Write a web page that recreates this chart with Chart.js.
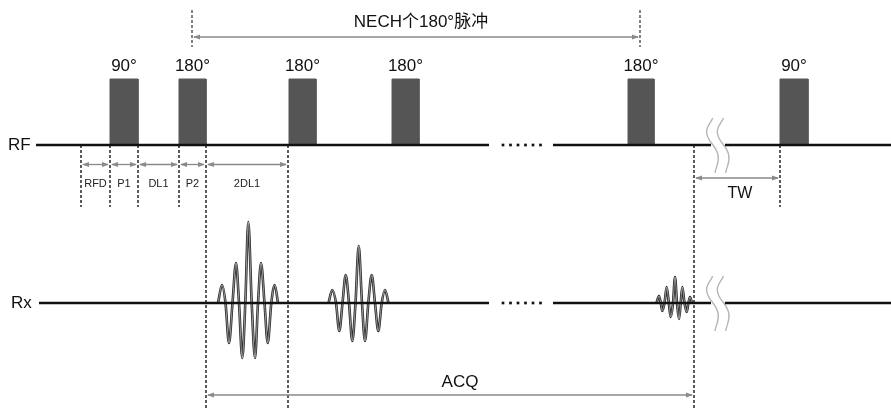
<!DOCTYPE html>
<html>
<head>
<meta charset="utf-8">
<script src="https://cdn.jsdelivr.net/npm/chart.js@4.4.1/dist/chart.umd.min.js"></script>
<style>
  html, body { margin: 0; padding: 0; background: #fff; }
  #wrap { width: 891px; height: 410px; }
</style>
</head>
<body>
<div id="wrap"><canvas id="seq" width="891" height="410"></canvas></div>
<script>
// RF pulses (time units)
const pulseLabels = ['90°', '180°', '180°', '180°', '180°', '90°'];
const pulseOn  = [110, 179, 289, 392, 628, 780];
const pulseOff = [138, 206, 316, 419, 654, 808];
const pulseAmp = 66;

// timing intervals below the RF line
const intervalLabels = ['RFD', 'P1', 'DL1', 'P2', '2DL1'];
const intervalEdges = [81, 110, 138, 179, 206, 288];

// echoes: time and amplitude
const echo1T = [218, 222, 225.5, 229, 232.5, 236, 239, 242.3, 245.3, 248.3, 251.7, 255, 258, 261, 264.5, 267.7, 271.3, 274.7, 278];
const echo1A = [0, 18, 0, -40, 0, 40, 0, -55, 0, 81, 0, -55, 0, 40, 0, -40, 0, 18, 0];
const echo2T = [328.5, 332.3, 336, 339.3, 342.5, 345.7, 349, 352.3, 355.5, 358.7, 362, 365, 368.3, 371.7, 375, 378.3, 381.7, 385, 388.5];
const echo2A = [0, 13, 0, -28, 0, 28, 0, -38, 0, 57, 0, -38, 0, 28, 0, -28, 0, 13, 0];
const echo3T = [656.5, 659, 660.8, 662.3, 664.5, 666.7, 668.8, 670.7, 673, 675, 677, 679, 680.7, 682.3, 684.5, 686.7, 688.4, 690, 692];
const echo3A = [0, 7, 0, -8, 0, 16, 0, -14, 0, 26, 0, -16, 0, 16, 0, -9, 0, 6, 0];

// spans marked with arrows
const nechSpan = [192, 640];
const acqSpan = [206, 694];
const twSpan = [694, 780];

// baseline segments and the "......" gap
const rfSegments = [[36, 489], [553, 711], [725, 891]];
const rxSegments = [[39, 489], [553, 711], [725, 891]];
const gapDots = [503, 510.5, 518, 525.5, 533, 540.5];

// break marks on each line: [t, offset from line]
const breakCurve = [[712.7, -27], [706.7, -12], [718, 10], [715, 28]];
const breakShift = 10.7;

// layout levels on the y scale (reversed, top = 0)
const RF_Y = 145;
const RX_Y = 303;
const SHORT_END = 207;
const LONG_END = 410;

const datasets = [];
const line = (pts, extra) => Object.assign({
  type: 'line', data: pts, borderColor: '#111', borderWidth: 2.5,
  pointRadius: 0, pointHoverRadius: 0, fill: false, tension: 0
}, extra || {});

// baselines
[[RF_Y, rfSegments], [RX_Y, rxSegments]].forEach(([lv, segs]) => {
  segs.forEach(s => {
    datasets.push(line([{ x: s[0], y: lv }, { x: s[1], y: lv }]));
  });
  datasets.push({
    type: 'scatter', data: gapDots.map(t => ({ x: t, y: lv })),
    pointStyle: 'rect', pointRadius: 1.9, pointHoverRadius: 1.9,
    backgroundColor: '#111', borderWidth: 0
  });
});

// pulses
pulseOn.forEach((t0, i) => {
  const t1 = pulseOff[i];
  datasets.push(line([
    { x: t0, y: RF_Y }, { x: t0, y: RF_Y - pulseAmp },
    { x: t1, y: RF_Y - pulseAmp }, { x: t1, y: RF_Y }
  ], { borderColor: '#575757', borderWidth: 1, backgroundColor: '#555', fill: 'shape' }));
});

// echoes: dark outline with a light core, like the scanned figure
[[echo1T, echo1A], [echo2T, echo2A], [echo3T, echo3A]].forEach(([T, A]) => {
  const pts = T.map((t, i) => ({ x: t, y: RX_Y - A[i] }));
  datasets.push(line(pts, {
    borderColor: '#2a2a2a', borderWidth: 2.6, cubicInterpolationMode: 'monotone', order: 2
  }));
  datasets.push(line(pts.map(p => ({ ...p })), {
    borderColor: '#c8c8c8', borderWidth: 0.7, cubicInterpolationMode: 'monotone', order: 1
  }));
});

// dashed markers
const dashed = (t, y0, y1, color) => line([{ x: t, y: y0 }, { x: t, y: y1 }], {
  borderColor: color || '#4a4a4a', borderWidth: 1.8, borderDash: [3, 2], order: 0
});
[intervalEdges[0], intervalEdges[1], intervalEdges[2], intervalEdges[3], twSpan[1]]
  .forEach(t => datasets.push(dashed(t, RF_Y, SHORT_END)));
[acqSpan[0], intervalEdges[5], acqSpan[1]]
  .forEach(t => datasets.push(dashed(t, RF_Y, LONG_END)));
nechSpan.forEach(t => datasets.push(dashed(t, 10, 47, '#777')));

// break marks
[RF_Y, RX_Y].forEach(lv => {
  [0, breakShift].forEach(dx => {
    datasets.push(line(breakCurve.map(p => ({ x: p[0] + dx, y: lv + p[1] })), {
      borderColor: '#b5b5b5', borderWidth: 1.4, tension: 0.45
    }));
  });
});

const annotate = {
  id: 'annotate',
  afterDatasetsDraw(chart) {
    const { ctx, scales: { x, y } } = chart;
    const px = t => x.getPixelForValue(t);
    const py = v => y.getPixelForValue(v);

    const arrow = (t0, t1, lv, color) => {
      const a = px(t0), b = px(t1), yy = py(lv);
      ctx.save();
      ctx.strokeStyle = color; ctx.fillStyle = color; ctx.lineWidth = 1.3;
      ctx.beginPath(); ctx.moveTo(a + 2, yy); ctx.lineTo(b - 2, yy); ctx.stroke();
      [[a + 1, 1], [b - 1, -1]].forEach(([p, d]) => {
        ctx.beginPath();
        ctx.moveTo(p, yy);
        ctx.lineTo(p + d * 7, yy - 2.6);
        ctx.lineTo(p + d * 7, yy + 2.6);
        ctx.closePath(); ctx.fill();
      });
      ctx.restore();
    };

    const text = (s, t, v, size, align, color) => {
      ctx.save();
      ctx.font = size + 'px "Liberation Sans", Arial, "Noto Sans CJK SC", sans-serif';
      ctx.fillStyle = color || '#111';
      ctx.textAlign = align || 'center';
      ctx.textBaseline = 'middle';
      ctx.fillText(s, px(t), py(v));
      ctx.restore();
    };

    // arrows
    arrow(nechSpan[0], nechSpan[1], 37, '#8a8a8a');
    for (let i = 0; i < intervalLabels.length; i++) {
      arrow(intervalEdges[i], intervalEdges[i + 1], 164.5, '#8a8a8a');
    }
    arrow(twSpan[0], twSpan[1], 178, '#8a8a8a');
    arrow(acqSpan[0], acqSpan[1], 395, '#8a8a8a');

    // labels
    text('NECH个180°脉冲', (nechSpan[0] + nechSpan[1]) / 2 + 5, 22, 17);
    pulseLabels.forEach((s, i) => text(s, (pulseOn[i] + pulseOff[i]) / 2, 66, 17));
    intervalLabels.forEach((s, i) =>
      text(s, (intervalEdges[i] + intervalEdges[i + 1]) / 2, 183.5, 11, 'center', '#222'));
    text('TW', (twSpan[0] + twSpan[1]) / 2 + 3, 194, 16);
    text('ACQ', (acqSpan[0] + acqSpan[1]) / 2 + 10, 382, 17);
    text('RF', 8, RF_Y, 17, 'left');
    text('Rx', 11, RX_Y, 17, 'left');
  }
};

new Chart(document.getElementById('seq'), {
  type: 'scatter',
  data: { datasets },
  options: {
    responsive: false,
    animation: false,
    events: [],
    layout: { padding: 0, autoPadding: false },
    plugins: { legend: { display: false }, tooltip: { enabled: false } },
    scales: {
      x: { type: 'linear', min: 0, max: 891, display: false },
      y: { type: 'linear', min: 0, max: 410, reverse: true, display: false }
    }
  },
  plugins: [annotate]
});
</script>
</body>
</html>
